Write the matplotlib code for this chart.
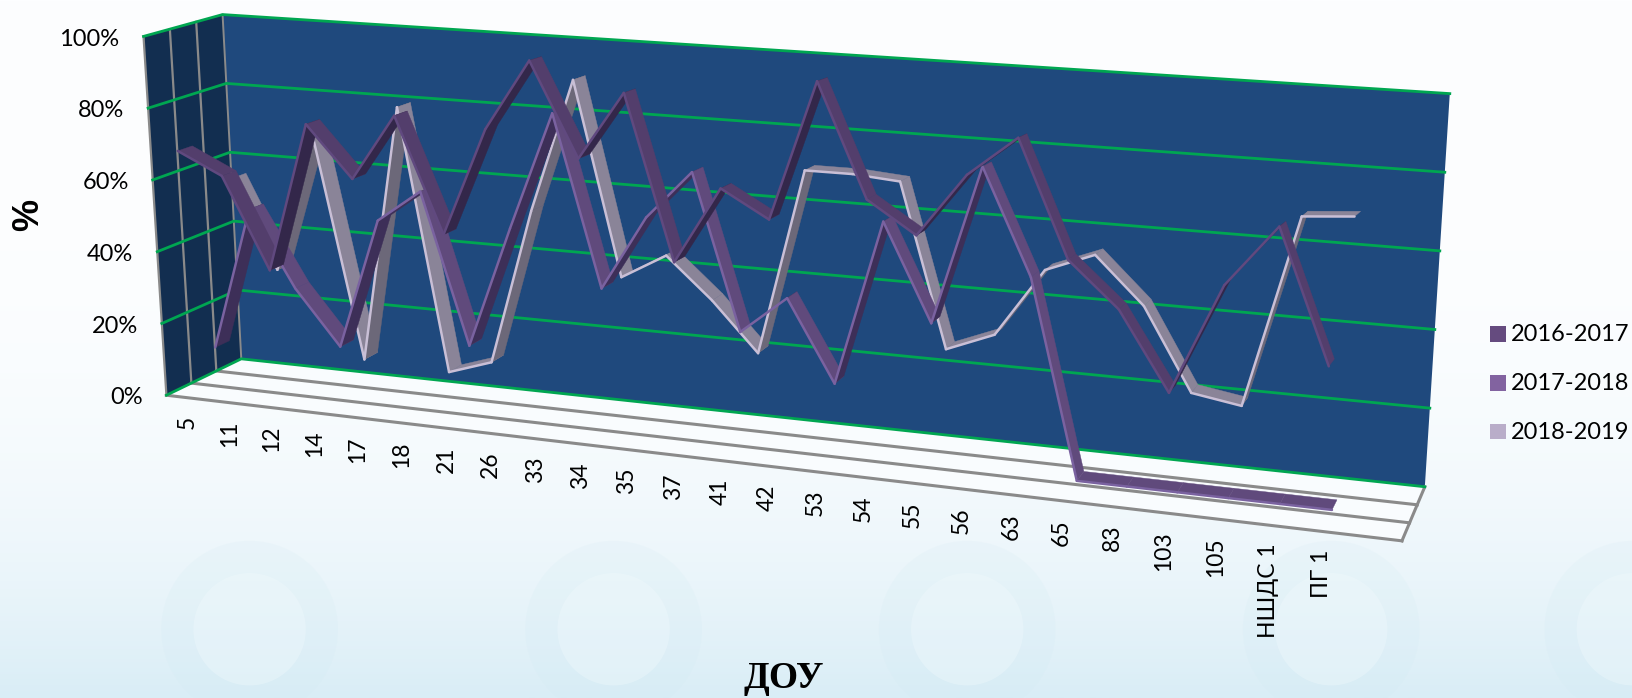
import numpy as np
import matplotlib
matplotlib.use('Agg')
import matplotlib.pyplot as plt
from matplotlib.patches import Polygon, Rectangle, Circle

categories = ['5', '11', '12', '14', '17', '18', '21', '26', '33', '34', '35', '37', '41',
              '42', '53', '54', '55', '56', '63', '65', '83', '103', '105', 'НШДС 1', 'ПГ 1']
series_names = ['2016-2017', '2017-2018', '2018-2019']
values_2016 = [68, 62, 37, 78, 64, 82, 51, 80, 99, 74, 92, 49, 69, 62, 98, 69, 61, 77, 87, 58, 47, 28, 55, 70, 38]
values_2017 = [10, 50, 29, 14, 50, 59, 18, 51, 83, 37, 57, 70, 29, 39, 18, 61, 36, 77, 50, 0, 0, 0, 0, 0, 0]
values_2018 = [55, 30, 69, 7, 79, 6, 10, 53, 90, 37, 44, 33, 20, 70, 70, 69, 26, 31, 49, 54, 42, 21, 19, 68, 69]
y_ticks = [0, 20, 40, 60, 80, 100]

W, H = 1569.2, 671.1
n_slots = 26
K = 1.14
# box corners in axes pixels: front/back, left/right, bottom/top
FLB, FLT = np.array([160, 380.]), np.array([138, 35.])
BLB, BLT = np.array([232, 345.]), np.array([214, 14.])
FRB, FRT = np.array([1348, 520.]), np.array([1364, 105.])
BRB, BRT = np.array([1370, 468.]), np.array([1394, 90.])


def project(slot, value, depth):
    slot = np.asarray(slot, dtype=float)
    t = slot / n_slots
    t = t / (t + K * (1 - t))
    v = np.asarray(value, dtype=float) / 100.
    left = (1 - depth) * ((1 - v)[..., None] * FLB + v[..., None] * FLT) + depth * ((1 - v)[..., None] * BLB + v[..., None] * BLT)
    right = (1 - depth) * ((1 - v)[..., None] * FRB + v[..., None] * FRT) + depth * ((1 - v)[..., None] * BRB + v[..., None] * BRT)
    return (1 - t)[..., None] * left + t[..., None] * right


fig = plt.figure(figsize=(16.32, 6.98), dpi=100)
ax = fig.add_axes([0, 0, 1, 1])
ax.set_xlim(0, W)
ax.set_ylim(H, 0)
ax.axis('off')

# background
grad = (np.linspace(0, 1, 256) ** 3.5)[:, None, None]
top = np.array([253, 254, 255]) / 255.
bottom = np.array([217, 237, 246]) / 255.
img = top[None, None, :] * (1 - grad) + bottom[None, None, :] * grad
ax.imshow(img, extent=[0, W, H, 0], aspect='auto', zorder=0)
for cx in [240, 590, 930, 1280, 1570]:
    ax.add_patch(Circle((cx, 605), 85, fc='#cfe9f2', ec='none', alpha=0.16, zorder=0.5))
    ax.add_patch(Circle((cx, 605), 54, fc='#f2fafd', ec='none', alpha=0.35, zorder=0.6))

GREEN = '#00a651'
GREY = '#8a8a8a'


def quad(p0, p1, p2, p3, **kw):
    ax.add_patch(Polygon(np.array([p0, p1, p2, p3]), closed=True, **kw))


# floor, walls
quad(FLB, FRB, BRB, BLB, fc='#f9fcfe', ec='none', zorder=1)
quad(FLB, FLT, BLT, BLB, fc='#122e50', ec='none', zorder=1)
quad(BLB, BLT, BRT, BRB, fc='#1f497d', ec='none', zorder=1)

for d in [0, 1 / 3, 2 / 3]:
    a, b = project(0., 0., d), project(float(n_slots), 0., d)
    ax.plot([a[0], b[0]], [a[1], b[1]], color=GREY, lw=2.2, zorder=2)
    a, b = project(0., 0., d), project(0., 100., d)
    ax.plot([a[0], b[0]], [a[1], b[1]], color=GREY, lw=1.6, zorder=2)
a, b = project(0., 0., 1.), project(0., 100., 1.)
ax.plot([a[0], b[0]], [a[1], b[1]], color=GREY, lw=1.4, zorder=2)
a, b = project(float(n_slots), 0., 0.), project(float(n_slots), 0., 1.)
ax.plot([a[0], b[0]], [a[1], b[1]], color=GREY, lw=2.2, zorder=2)

for tick in y_ticks:
    p = project(np.array([0., 0., float(n_slots)]), np.array([tick, tick, tick], dtype=float), 1.)
    f = project(0., float(tick), 0.)
    ax.plot([f[0], p[0][0], p[2][0]], [f[1], p[0][1], p[2][1]], color=GREEN, lw=2.0, zorder=3)
    ax.text(f[0] - 23, f[1] + 2.5, f'{tick}%', ha='right', va='center', fontsize=17, family='Lato', color='black', zorder=8)

# series, back to front
styles = [
    (values_2018, 5 / 6, '#8a8498', '#6c6879', '#c9bfd6'),
    (values_2017, 3 / 6, '#604a7c', '#3d2f58', '#7a62a0'),
    (values_2016, 1 / 6, '#533e6c', '#33274a', '#60497f'),
]
half = 0.095
z = 4
for vals, depth, falling, rising, edge in styles:
    for i in range(len(vals) - 1):
        s0, s1 = i + 0.5, i + 1.5
        a0 = project(s0, vals[i], depth - half)
        a1 = project(s1, vals[i + 1], depth - half)
        b1 = project(s1, vals[i + 1], depth + half)
        b0 = project(s0, vals[i], depth + half)
        face = rising if vals[i + 1] > vals[i] + 8 else falling
        quad(a0, a1, b1, b0, fc=face, ec=face, lw=0.3, zorder=z)
        ax.plot([a0[0], a1[0]], [a0[1], a1[1]], color=edge, lw=1.8, solid_capstyle='round', zorder=z + 0.01)
        z += 0.02
    z += 0.5

# category labels
for i, label in enumerate(categories):
    p = project(i + 0.5, 0., 0.)
    ax.text(p[0], p[1] + 17.5, label, rotation=90, ha='center', va='top', fontsize=16.5,
            family='Lato', color='black', zorder=8)

ax.text(28, 207, '%', rotation=90, ha='center', va='center', fontsize=26, fontweight='bold',
        family='Liberation Sans', color='black', zorder=8)
ax.text(754, 652, 'ДОУ', ha='center', va='center', fontsize=27, fontweight='bold',
        family='Liberation Serif', color='black', zorder=8)

# legend
legend_colors = ['#654b7f', '#8263a0', '#b9adc9']
for j, (name, col) in enumerate(zip(series_names, legend_colors)):
    y = 321 + j * 47
    ax.add_patch(Rectangle((1433, y - 7.5), 15, 15, fc=col, ec='none', zorder=8))
    ax.text(1453, y + 1, name, ha='left', va='center', fontsize=17, family='Lato', color='black', zorder=8)

fig.savefig('out.png', dpi=100)
